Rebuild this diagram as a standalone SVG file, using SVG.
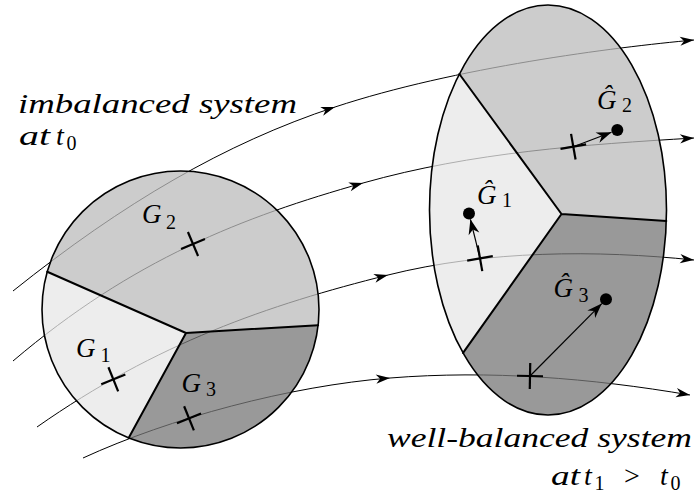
<svg xmlns="http://www.w3.org/2000/svg" width="696" height="498" viewBox="0 0 696 498">
<defs>
<marker id="mid" viewBox="-15 -6 16 12" markerWidth="16" markerHeight="12" refX="0" refY="0" orient="auto" markerUnits="userSpaceOnUse">
<path d="M0,0 L-14,-4.6 L-10,0 L-14,4.6 Z" fill="#000"/>
</marker>
<marker id="big" viewBox="-16 -7 17 14" markerWidth="17" markerHeight="14" refX="0" refY="0" orient="auto" markerUnits="userSpaceOnUse">
<path d="M0,0 L-15,-5.5 L-10.5,0 L-15,5.5 Z" fill="#000"/>
</marker>
<g id="cross"><line x1="-13" y1="0" x2="13" y2="0" stroke="#000" stroke-width="2.2"/><line x1="0" y1="-13" x2="0" y2="13" stroke="#000" stroke-width="2.2"/></g>
</defs>

<g id="flow-lines" fill="none" stroke="#000" stroke-width="1" marker-mid="url(#mid)" marker-end="url(#mid)">
<path d="M13,291 C123,203 225,143.3 335,107 C455,67.4 615,47.2 694,40"/>
<path d="M13,361 C133,259 243,217 363,183 C473,152 585,144.6 694,138"/>
<path d="M37,427 C157,343 268,305 388,275 C488,250 597,250 694,260"/>
<path d="M83,458 C170,418 290,386 390,378 C490,370 590,378 690,395"/>
</g>

<g id="imbalanced-system">
<g id="region-G2"><path fill="#bbbbbb" fill-opacity="0.75" d="M47.23,271.78 L186,333 L318.11,325.13 A138.5,138.5 0 0 0 47.23,271.78 Z"/></g>
<g id="region-G1"><path fill="#e7e7e7" fill-opacity="0.75" d="M47.23,271.78 L186,333 L128.63,437.92 A138.5,138.5 0 0 1 47.23,271.78 Z"/></g>
<g id="region-G3"><path fill="#777777" fill-opacity="0.75" d="M186,333 L318.11,325.13 A138.5,138.5 0 0 1 128.63,437.92 Z"/></g>
<circle cx="180.5" cy="309.5" r="138.5" fill="none" stroke="#000" stroke-width="1.6"/>
<path d="M47.23,271.78 L186,333 L318.11,325.13 M186,333 L128.63,437.92" fill="none" stroke="#000" stroke-width="2" stroke-linejoin="round" stroke-linecap="round"/>
<use href="#cross" transform="translate(193,244) rotate(-23)"/>
<use href="#cross" transform="translate(113.3,379.3) rotate(-22)"/>
<use href="#cross" transform="translate(189,418.3) rotate(-22)"/>
<g font-family="Liberation Serif" fill="#000">
<text x="142" y="223" font-style="italic" font-size="27">G</text>
<text x="166" y="228.5" font-size="20">2</text>
<text x="76" y="357" font-style="italic" font-size="27">G</text>
<text x="100.5" y="362" font-size="20">1</text>
<text x="181.5" y="391.5" font-style="italic" font-size="27">G</text>
<text x="206" y="396" font-size="20">3</text>
</g>
</g>

<g id="balanced-system">
<g id="region-hG2"><path fill="#bbbbbb" fill-opacity="0.75" d="M561.5,214 L459.34,74 A118.5,205 0 0 1 666.33,220.99 Z"/></g>
<g id="region-hG1"><path fill="#e7e7e7" fill-opacity="0.75" d="M561.5,214 L463.05,352.93 A118.5,205 0 0 1 459.34,74 Z"/></g>
<g id="region-hG3"><path fill="#777777" fill-opacity="0.75" d="M561.5,214 L666.33,220.99 A118.5,205 0 0 1 463.05,352.93 Z"/></g>
<ellipse cx="548" cy="210" rx="118.5" ry="205" fill="none" stroke="#000" stroke-width="1.6"/>
<path d="M459.34,74 L561.5,214 L666.33,220.99 M561.5,214 L463.05,352.93" fill="none" stroke="#000" stroke-width="2" stroke-linejoin="round" stroke-linecap="round"/>
<use href="#cross" transform="translate(573.3,146.7) rotate(-10)"/>
<use href="#cross" transform="translate(480,258.3) rotate(-10)"/>
<use href="#cross" transform="translate(530,376) rotate(1)"/>
<g fill="none" stroke="#000" stroke-width="1.2" marker-end="url(#big)">
<path d="M573.3,146.7 L611.5,132.2"/>
<path d="M480,258.3 L470.4,219.3"/>
<path d="M530,376 L601.8,303.6"/>
</g>
<g fill="#000">
<circle cx="617.3" cy="130" r="6"/>
<circle cx="469" cy="213.5" r="6"/>
<circle cx="606" cy="299.3" r="6"/>
</g>
<g font-family="Liberation Serif" fill="#000">
<text x="597" y="108.5" font-style="italic" font-size="27">&#284;</text>
<text x="622" y="112" font-size="20">2</text>
<text x="477" y="203.5" font-style="italic" font-size="27">&#284;</text>
<text x="502" y="206.5" font-size="20">1</text>
<text x="553.5" y="296.5" font-style="italic" font-size="27">&#284;</text>
<text x="578.5" y="301.5" font-size="20">3</text>
</g>
</g>

<g id="captions" font-family="Liberation Serif" fill="#000">
<text x="18" y="113" textLength="279" lengthAdjust="spacingAndGlyphs" font-style="italic" font-size="28">imbalanced system</text>
<text x="19" y="145" textLength="31" lengthAdjust="spacingAndGlyphs" font-style="italic" font-size="28">at</text>
<text x="56" y="145" font-style="italic" font-size="28">t</text>
<text x="66.5" y="150" font-size="20">0</text>
<text x="387" y="447" textLength="305" lengthAdjust="spacingAndGlyphs" font-style="italic" font-size="28">well-balanced system</text>
<text x="551" y="485" textLength="29" lengthAdjust="spacingAndGlyphs" font-style="italic" font-size="28">at</text>
<text x="584" y="485" font-style="italic" font-size="28">t</text>
<text x="594.5" y="490" font-size="20">1</text>
<text x="624" y="485" font-size="28">&gt;</text>
<text x="660" y="485" font-style="italic" font-size="28">t</text>
<text x="670.5" y="490" font-size="20">0</text>
</g>
</svg>
